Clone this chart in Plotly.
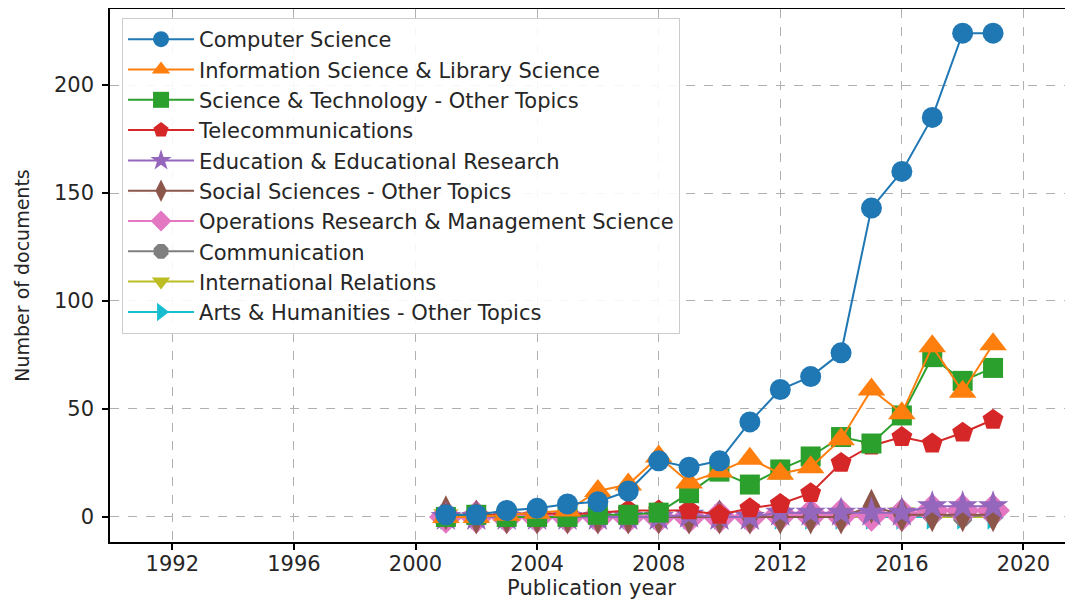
import plotly.graph_objects as go

years = list(range(2001, 2020))

computer_science = [1, 1, 3, 4, 6, 7, 12, 26, 23, 26, 44, 59, 65, 76, 143, 160, 185, 224, 224]
info_science = [0, 0, 1, 2, 3, 12, 15, 28, 16, 21, 27, 20, 23, 36, 59, 48, 79, 58, 80]
sci_tech = [0, 1, 0, 0, 0, 1, 1, 2, 11, 21, 15, 22, 28, 37, 34, 47, 74, 63, 69]
telecom = [1, 1, 1, 2, 1, 2, 3, 3, 3, 1, 4, 6, 11, 25, 33, 37, 34, 39, 45]
education = [0, 0, 0, 0, 0, 0, 0, 0, 1, 0, 0, 2, 2, 2, 2, 2, 5, 5, 5]
social_sci = [2, 0, 0, 0, 0, 0, 0, 0, 0, 0, 0, 0, 0, 0, 5, 1, 1, 1, 1]
operations = [0, 0, 0, 0, 0, 0, 0, 0, 0, 0, 0, 1, 1, 1, 1, 1, 3, 3, 3]
communication = [0, 0, 0, 0, 0, 0, 0, 0, 0, 0, 0, 0, 0, 0, 1, 0, 1, 0, 1]
intl_relations = [1, 0, 0, 0, 0, 0, 0, 0, 0, 0, 0, 0, 0, 0, 0, 2, 0, 0, 0]
arts_humanities = [0, 0, 0, 0, 0, 0, 0, 0, 0, 0, 0, 0, 0, 0, 0, 0, 0, 0, 0]

series = [
    ("Computer Science", computer_science, "#1f77b4", "circle", 21),
    ("Information Science & Library Science", info_science, "#ff7f0e", "triangle-up", 24),
    ("Science & Technology - Other Topics", sci_tech, "#2ca02c", "square", 20),
    ("Telecommunications", telecom, "#d62728", "pentagon", 22),
    ("Education & Educational Research", education, "#9467bd", "star", 23),
    ("Social Sciences - Other Topics", social_sci, "#8c564b", "diamond-tall", 25),
    ("Operations Research & Management Science", operations, "#e377c2", "diamond", 26),
    ("Communication", communication, "#7f7f7f", "octagon", 20),
    ("International Relations", intl_relations, "#bcbd22", "triangle-down", 22),
    ("Arts & Humanities - Other Topics", arts_humanities, "#17becf", "triangle-right", 22),
]

fig = go.Figure()
# first legend entry sits on top in the original, so draw in reverse
for name, values, color, symbol, size in reversed(series):
    fig.add_trace(go.Scatter(
        x=years, y=values, name=name, mode="lines+markers",
        line=dict(color=color, width=2),
        marker=dict(symbol=symbol, size=size, color=color, line=dict(width=0)),
    ))

axis_font = dict(family="DejaVu Sans", size=21, color="#262626")
# page body has an 8px margin, so the figure is sized to fit the window
fig.update_layout(
    width=1065, height=595,
    margin=dict(l=102, r=0, t=1, b=61),
    paper_bgcolor="white", plot_bgcolor="white",
    font=dict(family="DejaVu Sans", color="#262626"),
    showlegend=True,
    legend=dict(
        x=0.0125, y=0.983, xanchor="left", yanchor="top",
        traceorder="reversed",
        bgcolor="rgba(255,255,255,0.9)", bordercolor="#cccccc", borderwidth=1,
        font=dict(family="DejaVu Sans", size=21, color="#262626"),
        itemwidth=66,
    ),
    xaxis=dict(
        range=[1989.95, 2021.63], tick0=1992, dtick=4,
        showgrid=True, gridcolor="#b0b0b0", griddash="dash", gridwidth=1,
        showline=True, linecolor="black", linewidth=1.5, mirror=True,
        ticks="outside", ticklen=6, tickcolor="black", tickwidth=1.5,
        ticklabelstandoff=-4,
        tickfont=axis_font, zeroline=False,
        title=dict(text="Publication year", font=axis_font, standoff=4),
    ),
    yaxis=dict(
        range=[-11.6, 235.2], tick0=0, dtick=50,
        showgrid=True, gridcolor="#b0b0b0", griddash="dash", gridwidth=1,
        showline=True, linecolor="black", linewidth=1.5,
        ticks="outside", ticklen=6, tickcolor="black", tickwidth=1.5,
        ticklabelstandoff=4,
        tickfont=axis_font, zeroline=False,
        title=dict(text="Number of documents",
                   font=dict(family="DejaVu Sans", size=19, color="#262626"),
                   standoff=19),
    ),
)

fig.write_html("out.html")
